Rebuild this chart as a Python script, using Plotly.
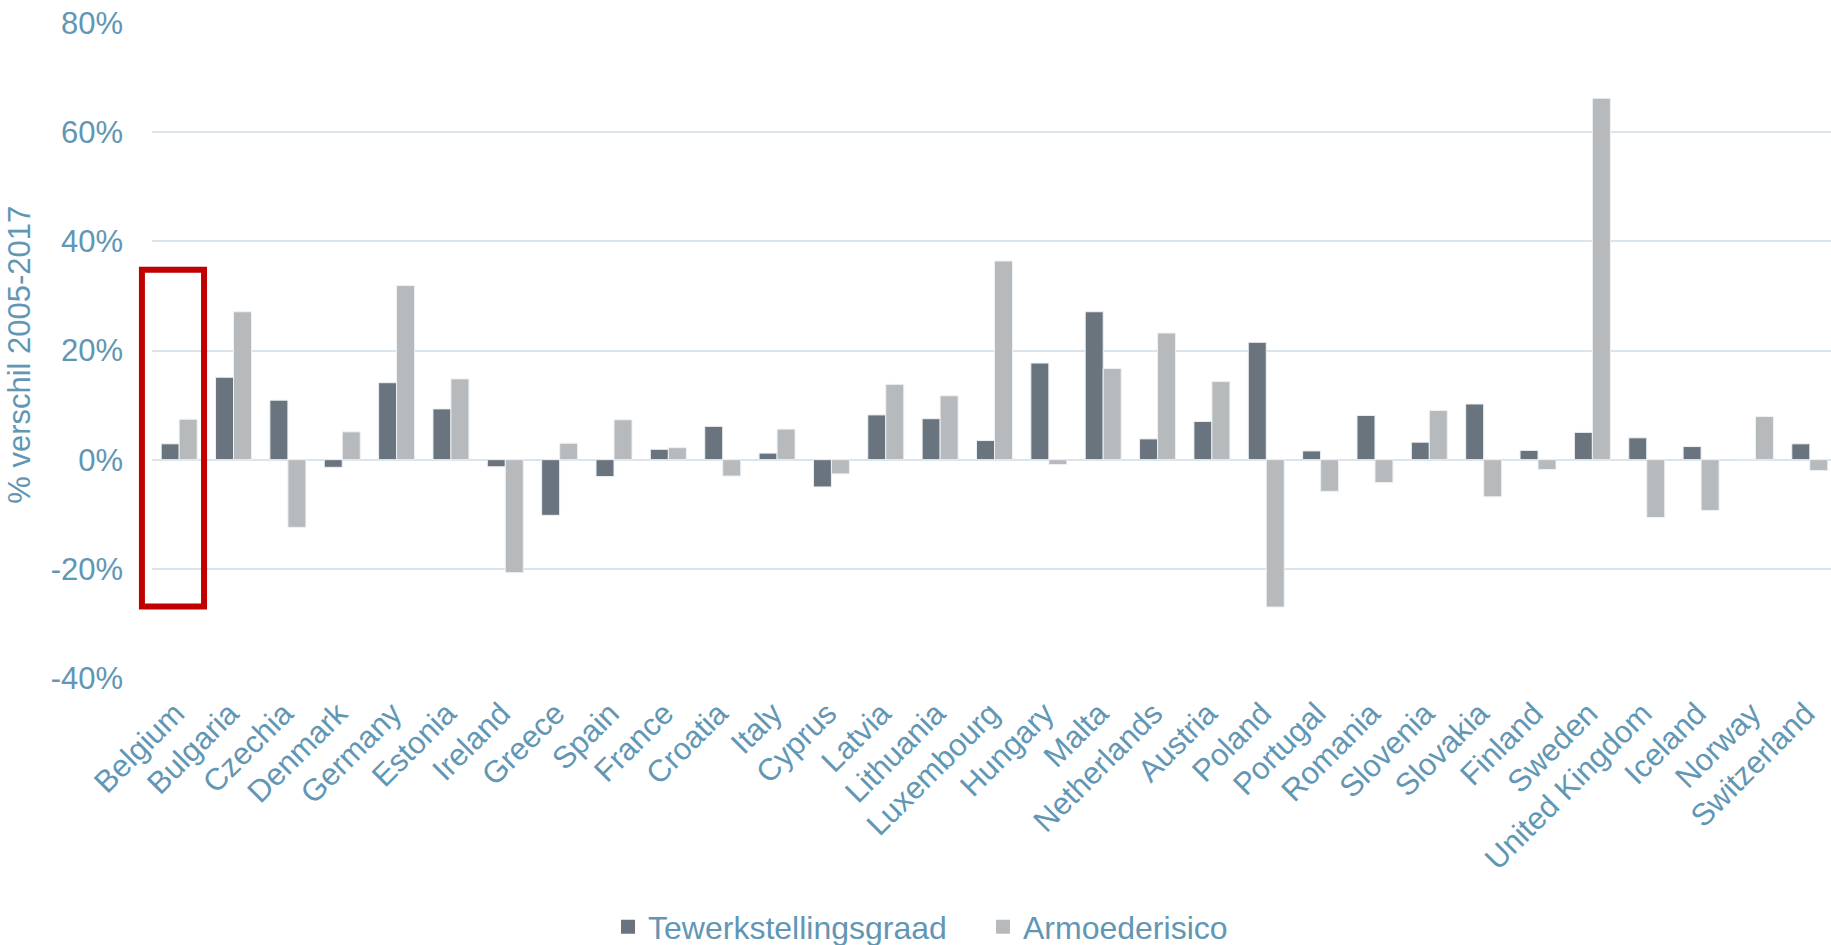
import plotly.graph_objects as go

countries = ["Belgium", "Bulgaria", "Czechia", "Denmark", "Germany", "Estonia", "Ireland",
             "Greece", "Spain", "France", "Croatia", "Italy", "Cyprus", "Latvia", "Lithuania",
             "Luxembourg", "Hungary", "Malta", "Netherlands", "Austria", "Poland", "Portugal",
             "Romania", "Slovenia", "Slovakia", "Finland", "Sweden", "United Kingdom",
             "Iceland", "Norway", "Switzerland"]

tewerkstelling = [2.9, 15.1, 10.9, -1.4, 14.1, 9.3, -1.3, -10.2, -3.1, 1.9, 6.1, 1.2, -5.0,
                  8.2, 7.5, 3.5, 17.7, 27.1, 3.8, 7.0, 21.5, 1.6, 8.1, 3.2, 10.2, 1.7, 5.0,
                  4.0, 2.4, 0.1, 2.9]
armoede = [7.4, 27.1, -12.4, 5.1, 31.9, 14.8, -20.7, 3.0, 7.3, 2.2, -3.0, 5.6, -2.6,
           13.8, 11.7, 36.4, -0.9, 16.7, 23.2, 14.3, -27.0, -5.8, -4.2, 9.0, -6.8, -1.8, 66.2,
           -10.6, -9.3, 7.9, -2.0]

y_ticks = [-40, -20, 0, 20, 40, 60, 80]
y_tick_labels = ["-40%", "-20%", "0%", "20%", "40%", "60%", "80%"]

series_names = ["Tewerkstellingsgraad", "Armoederisico"]
series_colors = ["#69747e", "#b7babd"]

TEXT = "#6196b4"
FONT = "Liberation Sans, Arial, sans-serif"

fig = go.Figure()
for name, vals, col in zip(series_names, [tewerkstelling, armoede], series_colors):
    fig.add_trace(go.Bar(
        x=countries, y=vals, name=name, showlegend=False, legendgroup=name,
        marker=dict(color=col, line=dict(color="#eef1f3", width=1)),
    ))
# legend entries with larger square keys
for name, col in zip(series_names, series_colors):
    fig.add_trace(go.Scatter(
        x=[None], y=[None], mode="markers", name=name, legendgroup=name,
        marker=dict(symbol="square", size=14, color=col),
    ))

# highlight box around Belgium (paper x so it is not clipped by the plot area)
fig.add_shape(type="rect", xref="paper", yref="y",
              x0=-0.006, x1=0.031, y0=-26.9, y1=34.8,
              line=dict(color="#c00000", width=6), fillcolor="rgba(0,0,0,0)")

fig.add_annotation(text="% verschil 2005-2017", textangle=-90,
                   xref="paper", yref="paper", x=-0.079, y=0.494,
                   xanchor="center", yanchor="middle", showarrow=False,
                   font=dict(family=FONT, size=31, color=TEXT))

fig.update_layout(
    width=1831, height=945,
    margin=dict(l=152, r=0, t=23, b=267, autoexpand=False),
    paper_bgcolor="white", plot_bgcolor="white",
    barmode="group", bargap=0.338, bargroupgap=0,
    font=dict(family=FONT, color=TEXT, size=31),
    legend=dict(orientation="h", x=0.2716, y=-0.38, xanchor="left", yanchor="middle",
                font=dict(family=FONT, size=32, color=TEXT), itemwidth=30,
                entrywidth=330, traceorder="normal"),
    xaxis=dict(range=[-0.5, 30.39], tickangle=-45, showgrid=False, showline=False, ticks="",
               tickfont=dict(family=FONT, size=31, color=TEXT), automargin=False,
               ticklabelstandoff=10, ticklabelshift=-4),
    yaxis=dict(range=[-40, 80], tickvals=y_ticks, ticktext=y_tick_labels,
               showgrid=True, gridcolor="#dae4ec", gridwidth=1.5,
               zeroline=True, zerolinecolor="#dae4ec", zerolinewidth=1.5,
               showline=False, ticks="", automargin=False, ticklabelstandoff=28,
               tickfont=dict(family=FONT, size=31, color=TEXT)),
)

fig.write_html("out.html", config={"displayModeBar": False},
               post_script="document.body.style.margin='0';document.body.style.overflow='hidden';")
